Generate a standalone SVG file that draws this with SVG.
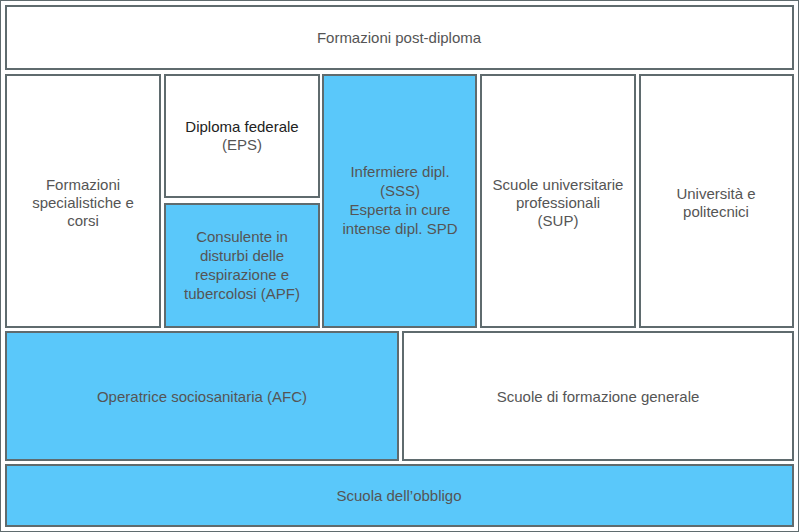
<svg xmlns="http://www.w3.org/2000/svg" width="799" height="532" viewBox="0 0 799 532">
<style>
rect{stroke:#5f6b6e;stroke-width:2}
.w{fill:#fff}.b{fill:#5ac8fa}
text{font-family:"Liberation Sans",Arial,sans-serif;font-size:15px;fill:#555;text-anchor:middle}
.d{fill:#222}
</style>
<rect width="799" height="532" fill="#fff" stroke="none"/>
<g id="n1"><rect class="w" x="6" y="6" width="787" height="63"/><text x="399" y="43">Formazioni post-diploma</text></g>
<g id="n2"><rect class="w" x="6" y="75" width="154" height="252"/><text x="83" y="190">Formazioni</text><text x="83" y="208">specialistiche e</text><text x="83" y="226">corsi</text></g>
<g id="n3"><rect class="w" x="165" y="75" width="154" height="122"/><text class="d" x="242" y="132">Diploma federale</text><text x="242" y="150">(EPS)</text></g>
<g id="n4"><rect class="b" x="165" y="204" width="154" height="123"/><text x="242" y="242">Consulente in</text><text x="242" y="261">disturbi delle</text><text x="242" y="280">respirazione e</text><text x="242" y="299">tubercolosi (APF)</text></g>
<g id="n5"><rect class="b" x="323" y="75" width="153" height="252"/><text x="400" y="177">Infermiere dipl.</text><text x="400" y="196">(SSS)</text><text x="400" y="215">Esperta in cure</text><text x="400" y="234">intense dipl. SPD</text></g>
<g id="n6"><rect class="w" x="481" y="75" width="154" height="252"/><text x="558" y="190">Scuole universitarie</text><text x="558" y="208">professionali</text><text x="558" y="226">(SUP)</text></g>
<g id="n7"><rect class="w" x="640" y="75" width="153" height="252"/><text x="716" y="199">Università e</text><text x="716" y="217">politecnici</text></g>
<g id="n8"><rect class="b" x="6" y="332" width="392" height="128"/><text x="202" y="402">Operatrice sociosanitaria (AFC)</text></g>
<g id="n9"><rect class="w" x="403" y="332" width="390" height="128"/><text x="598" y="402">Scuole di formazione generale</text></g>
<g id="n10"><rect class="b" x="6" y="465" width="787" height="61"/><text x="399" y="501">Scuola dell’obbligo</text></g>
<g id="connectors"/>
</svg>
